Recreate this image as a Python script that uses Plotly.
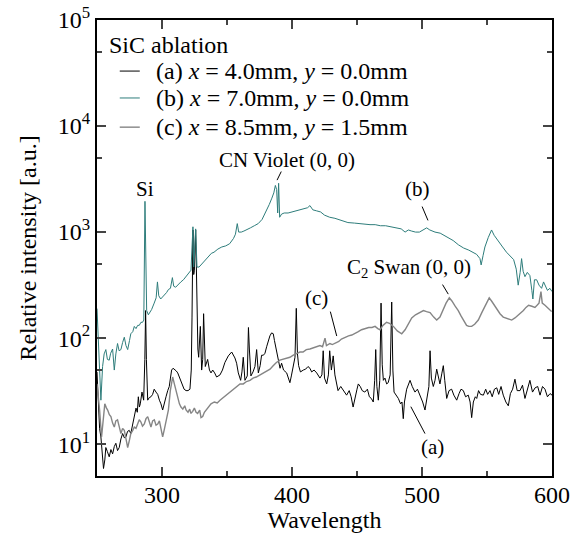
import plotly.graph_objects as go

# (a) x = 4.0mm, y = 0.0mm
wl_a = [250, 251, 252, 253, 254, 255, 256, 256.8, 258, 259.4, 260.7, 262, 263.3, 264.5, 265.8, 267.1,
        268.4, 269.7, 271, 272.2, 273.5, 274.8, 276, 277.4, 278.7, 280, 281, 281.8, 282.6, 283.3, 284.6,
        285.9, 286.8, 287.4, 288, 288.6, 289, 290.2, 291.5, 292.8, 294, 295.4, 296.7, 298, 299.2, 300.5,
        301.8, 303.1, 304.4, 305.6, 306.5, 307.4, 308.5, 309.5, 311, 312.1, 313.5, 315.2, 317, 318.5, 320,
        321.5, 322.5, 323.1, 323.8, 324.4, 324.9, 325.9, 326.5, 326.9, 327.6, 328.2, 329.5, 330.5, 331.3,
        332, 332.7, 333.3, 335.1, 336.5, 337.7, 339, 340.5, 342, 344.6, 346.5, 348.4, 351, 353.6, 355,
        356.1, 357.4, 358.7, 360.5, 361.5, 362.5, 363.3, 363.8, 365.6, 366.5, 367.2, 368.4, 370, 371.5,
        372.8, 374.1, 375.5, 376.6, 378, 379.2, 380.5, 381.8, 383, 384.3, 385.6, 386.5, 387.4, 388.5,
        389.5, 390.8, 392, 393.5, 395.9, 397, 398.4, 399.5, 401, 402.3, 403.3, 404.2, 405.1, 406.5, 408.7,
        410.5, 412.3, 413.8, 415.1, 417, 419, 421.5, 423, 424, 425, 426.7, 428, 429, 430.3, 431.7, 433,
        435.4, 437.5, 440, 442, 444, 445.5, 447, 448.5, 450, 451, 452.5, 454, 456, 458, 459.5, 461, 462.5,
        463.6, 464.4, 465.3, 466.4, 467.5, 468.5, 469.4, 470.3, 471.5, 472.8, 474, 475.5, 476.7, 477.6,
        478.5, 480, 481.8, 483.5, 484.6, 485.6, 486.5, 488.2, 489.5, 490.8, 492.5, 494.6, 496.5, 498.5,
        500.5, 502.3, 504, 505.3, 506.2, 507.2, 508.7, 510, 511.3, 512.5, 513.8, 515.2, 516.4, 517.5, 519,
        520.8, 522.8, 524.5, 526.7, 528.5, 530, 531.8, 533.5, 535.6, 537, 538.2, 539.5, 541, 542.1, 543.5,
        545, 547.2, 549, 550.5, 552.3, 554, 555.7, 557.5, 559, 560.8, 562.5, 564.5, 566.4, 568, 569.7,
        571.5, 573.2, 575.4, 577.3, 579.2, 581, 583, 585, 587, 589, 590.8, 592.7, 594.6, 596.5, 598.5, 600]
int_a = [48, 24, 14, 11.7, 7.9, 5.9, 7.1, 9.3, 8.5, 7.6, 8.9, 8.1, 9.5, 10.2, 8.7, 9.3,
         11.2, 12.6, 11.5, 11.7, 13.2, 13.5, 12.6, 15.5, 18.6, 21.9, 20, 28, 22.4, 24, 31,
         26, 63, 182, 63, 32, 26, 27.5, 28, 29.5, 33, 31, 29.5, 26, 24, 21,
         25, 28, 32, 35, 42, 50, 52, 51, 49, 47, 42, 37, 33, 32, 32,
         33, 50, 158, 1047, 398, 437, 1047, 316, 182, 79, 66, 129, 50, 63,
         170, 71, 54, 63, 50, 47, 50, 47, 43, 45, 50, 59, 68, 74, 69,
         65, 58, 47, 40, 48, 66, 48, 40, 44, 126, 79, 44, 48, 54,
         78, 47, 55, 69, 69, 72, 83, 95, 105, 112, 110, 95, 83, 71,
         63, 52, 58, 50, 47, 42, 38, 44, 54, 66, 191, 71, 55, 48, 50,
         51, 54, 52, 48, 50, 47, 42, 45, 76, 42, 37, 45, 76, 50, 68, 45,
         32, 35, 31, 29, 32, 28, 22.4, 28, 33, 37, 35, 32, 31, 33, 28, 27, 25,
         40, 78, 35, 26, 40, 214, 56, 40, 42, 37, 38, 45, 219, 50,
         31, 29, 27, 24, 25, 17.4, 25, 33, 36, 40, 35, 31, 33, 29,
         25, 21, 28, 35, 76, 42, 35, 40, 51, 42, 37, 46, 55, 40, 27,
         32, 33, 29, 26, 30, 33, 32, 28, 29, 25, 17.8, 25, 28, 27, 32,
         29.5, 29, 33, 29.5, 32, 28, 33, 34, 29.5, 35, 29, 25, 23, 30, 33,
         41, 32, 32, 36, 27, 33, 40, 31, 34, 35, 29, 35, 33, 28, 30, 29]

# (b) x = 7.0mm, y = 0.0mm
wl_b = [250, 251, 252, 253, 254.3, 255.5, 256.8, 258, 259.4, 260.5, 262, 263.3, 264.5, 265.8, 267, 268.4,
        269.7, 271, 272.3, 273.6, 275, 276, 277.5, 278.7, 280, 281.3, 282.5, 283.8, 285, 286, 286.9, 287.6,
        288.2, 289.5, 290.5, 292, 294, 295.5, 296.5, 297.5, 299, 300.5, 302, 303.5, 305, 306.5, 308, 309,
        310.5, 312.5, 314.5, 316.5, 318.5, 320.5, 322.3, 323.8, 324.4, 325.9, 326.9, 328.5, 330, 332, 334,
        336, 338, 340, 343, 346, 349, 352, 355, 356.5, 357.9, 359, 361, 363, 365, 368, 371, 374, 377, 380,
        382.5, 384.5, 386, 387.2, 388.2, 389, 389.7, 390.5, 392, 394, 397, 400, 403, 406, 409, 412, 413.8,
        416, 419, 422, 425, 429, 433, 438, 443, 448, 451, 456, 460, 464, 468, 472, 476.7, 480, 484, 487,
        489.5, 492, 495, 498, 501, 503.6, 506, 510, 514, 518, 521, 524, 528, 532, 536, 539.4, 542, 544.6,
        545.5, 547, 548.4, 551, 553.5, 555.5, 558.7, 562, 565, 568, 570.5, 572.5, 574, 575.5, 576.6, 577.8,
        579.2, 581, 583, 584.5, 585.3, 586.5, 588.2, 590, 592, 593.5, 595, 596.5, 598.4, 600]
int_b = [190, 100, 50, 26, 54, 71, 78, 63, 62, 72, 79, 50, 71, 89, 76, 78,
         91, 102, 85, 78, 95, 110, 115, 129, 123, 132, 132, 141, 141, 148, 1950, 224,
         182, 166, 174, 186, 214, 240, 339, 251, 234, 245, 251, 269, 288, 295, 372, 309,
         302, 324, 339, 355, 380, 407, 437, 1122, 468, 1072, 468, 468, 490, 525, 562,
         589, 631, 646, 692, 724, 741, 776, 871, 955, 1202, 1000, 1000, 1023, 1047, 1096, 1148, 1202, 1318, 1549,
         1820, 2089, 2344, 2754, 2512, 1514, 2884, 1380, 1479, 1514, 1514, 1549, 1585, 1622, 1660, 1698, 1778,
         1622, 1585, 1549, 1445, 1380, 1349, 1288, 1230, 1216, 1202, 1175, 1175, 1175, 1148, 1148, 1122, 1096, 1072, 1000,
         1047, 1023, 1000, 1000, 1047, 1096, 1047, 1000, 977, 912, 871, 832, 759, 708, 676, 646, 617, 562,
         490, 603, 724, 891, 1047, 933, 813, 724, 646, 589, 550, 447, 316, 417, 562, 427,
         380, 417, 389, 282, 234, 355, 355, 316, 295, 339, 309, 282, 295, 275]

# (c) x = 8.5mm, y = 1.5mm
wl_c = [250, 251, 252, 253.5, 255, 256, 257.2, 258.2, 259.5, 260.7, 262, 263.3, 264.5, 265.8, 267, 268.4,
        269.7, 271, 272.3, 273.6, 275, 276, 277.5, 278.7, 280, 281.3, 282.5, 283.8, 285, 286.4, 287.7, 289,
        290.2, 291.5, 292.8, 294.1, 295.4, 296.7, 298, 299.2, 300.5, 301.8, 303.1, 304.9, 306.4, 308.2,
        309.5, 310.8, 312.1, 313.4, 314.6, 316, 317.5, 318.5, 320, 321.3, 322.3, 323.6, 324.9, 326.2, 327.4,
        329, 330, 331.3, 332.6, 333.9, 335.5, 337.7, 340.3, 342.5, 344.6, 347, 349.5, 352.3, 355, 357.5,
        360, 362.5, 365, 367.7, 370, 372.5, 375.4, 378, 380.5, 383.1, 385.5, 388, 390.7, 393, 395.5, 398.4,
        401, 403.5, 406.1, 408.5, 411, 413.8, 416.5, 419, 421.5, 423.5, 425.4, 426.5, 429.2, 431, 433.1,
        436, 438, 440.8, 443.5, 446, 448.5, 451, 453.5, 456.2, 459, 461.5, 463.9, 466, 467.7, 470, 472.8,
        475, 478, 481, 484.4, 487, 490, 492.1, 495, 498, 501.1, 503.5, 506.2, 509, 511.3, 513.8, 516, 518.5,
        521, 523, 525.5, 527.9, 530, 532, 534.3, 536, 538.2, 540.5, 543.3, 546, 548.4, 550, 551.7, 553.5,
        555.5, 557.4, 560, 562.5, 565, 567, 569, 571.5, 573.5, 575.3, 578, 580, 582, 584.5, 586.9, 588.5,
        590, 591.5, 592.5, 594.6, 597, 599.7]
int_c = [37, 28, 21, 11.7, 20, 24, 22, 21, 19, 18.2, 15.8, 14.5, 16.6, 17, 14.8, 12.6,
         14.1, 13.5, 11.2, 9.3, 11, 12.6, 13.5, 14.5, 14.1, 15.5, 17, 16.2, 14.8, 15.5, 17.4, 18.2,
         15.8, 14.5, 16.6, 17, 15.1, 15.5, 16.6, 14.1, 11.7, 13.8, 17, 21, 32, 43,
         37, 32, 26, 24, 22.4, 21.4, 23, 21, 20, 21.4, 19.5, 20.4, 21.9, 20, 19.5,
         21, 17.8, 18.2, 20, 21, 21.9, 24, 25, 24.5, 26, 27.5, 29, 31, 33, 35,
         37, 37, 39, 40, 42, 43, 45, 47, 49, 51, 55, 59, 62, 63, 65, 66,
         69, 72, 74, 74, 78, 79, 81, 83, 85, 83, 100, 85, 89, 87, 89,
         93, 98, 102, 105, 107, 110, 115, 120, 123, 126, 126, 129, 123, 120, 132, 141,
         138, 129, 117, 110, 120, 141, 155, 166, 174, 182, 178, 174, 158, 148, 158, 186, 214,
         240, 224, 200, 182, 162, 145, 132, 129, 129, 135, 148, 174, 200, 224, 240, 224,
         204, 191, 170, 158, 155, 151, 148, 155, 162, 170, 182, 195, 204, 200, 195, 204,
         214, 275, 214, 204, 191, 178]

series_names = ["(a) <i>x</i> = 4.0mm, <i>y</i> = 0.0mm",
                "(b) <i>x</i> = 7.0mm, <i>y</i> = 0.0mm",
                "(c) <i>x</i> = 8.5mm, <i>y</i> = 1.5mm"]
series_colors = ["#000000", "#2e7d7b", "#858585"]
series_widths = [1, 1, 1.4]

y_ticks = [10, 100, 1000, 10000, 100000]
y_ticktext = ["10<sup>1</sup>", "10<sup>2</sup>", "10<sup>3</sup>", "10<sup>4</sup>", "10<sup>5</sup>"]
x_ticks = [300, 400, 500, 600]

# label text, anchor (wavelength, log10 intensity)
label_text = ["Si", "CN Violet (0, 0)", "(b)", "C<sub>2</sub> Swan (0, 0)", "(c)", "(a)"]
label_x = [286.9, 396.2, 496.2, 490.0, 419.2, 507.7]
label_logy = [3.41, 3.68, 3.41, 2.66, 2.38, 0.97]

# leader lines: head (wavelength, log10 I) <- tail (wavelength, log10 I)
lead_x = [388.5, 504.6, 520.2, 434.4, 502.3]
lead_logy = [3.49, 3.11, 2.415, 2.02, 1.10]
lead_ax = [392.3, 499.6, 515.1, 429.2, 490.8]
lead_alogy = [3.585, 3.255, 2.519, 2.264, 1.368]

FONT = "Liberation Serif"

fig = go.Figure()
for wl, inten, name, color, w in zip([wl_a, wl_b, wl_c], [int_a, int_b, int_c],
                                     series_names, series_colors, series_widths):
    fig.add_trace(go.Scatter(x=wl, y=inten, mode="lines", line=dict(color=color, width=w),
                             name=name, showlegend=False))

for t, x, ly in zip(label_text, label_x, label_logy):
    fig.add_annotation(x=x, y=ly, text=t, showarrow=False, font=dict(family=FONT, size=21, color="black"))

for x, ly, ax, aly in zip(lead_x, lead_logy, lead_ax, lead_alogy):
    fig.add_annotation(x=x, y=ly, ax=ax, ay=aly, axref="x", ayref="y", text="",
                       showarrow=True, arrowhead=0, arrowwidth=1, arrowcolor="black")

# hand-made legend (title + short line samples)
fig.add_annotation(xref="paper", yref="paper", x=0.022, y=0.945, xanchor="left", yanchor="middle",
                   text="SiC ablation", showarrow=False, font=dict(family=FONT, size=24, color="black"))
leg_y = [0.888, 0.829, 0.765]
for name, color, w, ly in zip(series_names, series_colors, series_widths, leg_y):
    fig.add_shape(type="line", xref="paper", yref="paper", x0=0.05, x1=0.094, y0=ly, y1=ly,
                  line=dict(color=color, width=w))
    fig.add_annotation(xref="paper", yref="paper", x=0.125, y=ly, xanchor="left", yanchor="middle",
                       text=name, showarrow=False, font=dict(family=FONT, size=24, color="black"))

fig.update_layout(
    width=579, height=533,
    margin=dict(l=97, r=27, t=20, b=57, autoexpand=False),
    paper_bgcolor="white", plot_bgcolor="white",
    font=dict(family=FONT, size=24, color="black"),
    showlegend=False,
)
fig.update_xaxes(range=[250, 600], tickvals=x_ticks, ticks="inside", ticklen=9, automargin=False,
                 tickwidth=1.5, showline=True, linewidth=2, linecolor="black", mirror="allticks",
                 showgrid=False, zeroline=False, tickfont=dict(family=FONT, size=24),
                 ticklabelstandoff=-4,
                 minor=dict(tickvals=[250, 350, 450, 550], ticks="inside", ticklen=5, tickwidth=1.5),
                 title=dict(text="Wavelength", standoff=0, font=dict(family=FONT, size=24)))
fig.update_yaxes(type="log", range=[0.7, 5.0], tickvals=y_ticks, ticktext=y_ticktext, automargin=False,
                 ticks="inside", ticklen=9, tickwidth=1.5, tickfont=dict(family=FONT, size=24),
                 showline=True, linewidth=2, linecolor="black", mirror="allticks", showgrid=False,
                 minor=dict(tickvals=[5, 50, 500, 5000, 50000], ticks="inside", ticklen=5, tickwidth=1.5),
                 title=dict(text="Relative intensity [a.u.]", standoff=14, font=dict(family=FONT, size=24)))

fig.write_html("out.html", config={"displayModeBar": False},
               post_script="document.body.style.margin='0';")
